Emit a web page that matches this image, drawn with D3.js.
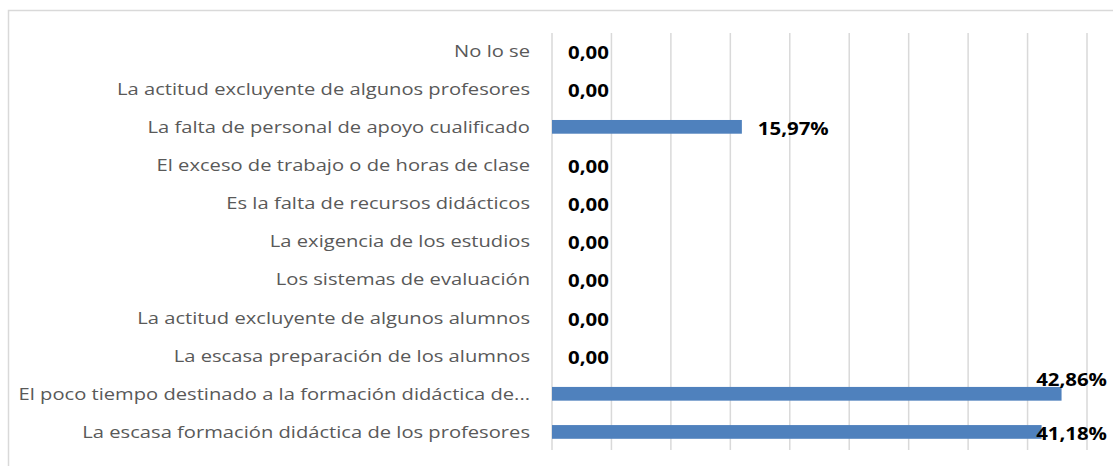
<!DOCTYPE html>
<html>
<head>
    <meta charset="utf-8">
    <title>Causas</title>
    <script src="https://d3js.org/d3.v7.min.js"></script>
    <style>
        body { margin: 0; background: #fff; }
        .cat { font-family: "Open Sans", sans-serif; font-size: 16px; fill: #595959; }
        .val { font-family: "Open Sans", sans-serif; font-size: 17px; font-weight: bold; fill: #000; }
        .grid line { stroke: #d9d9d9; stroke-width: 1.5px; }
    </style>
</head>
<body>
    <svg id="chart" width="1113" height="466"></svg>
    <script>
        // categories, top to bottom
        const categories = [
            'No lo se',
            'La actitud excluyente de algunos profesores',
            'La falta de personal de apoyo cualificado',
            'El exceso de trabajo o de horas de clase',
            'Es la falta de recursos didácticos',
            'La exigencia de los estudios',
            'Los sistemas de evaluación',
            'La actitud excluyente de algunos alumnos',
            'La escasa preparación de los alumnos',
            'El poco tiempo destinado a la formación didáctica de...',
            'La escasa formación didáctica de los profesores'
        ];
        const values = [0, 0, 15.97, 0, 0, 0, 0, 0, 0, 42.86, 41.18];
        const xTicks = [0, 5, 10, 15, 20, 25, 30, 35, 40, 45];

        const labelScale = 1.26;   // picture is stretched sideways
        const valueScale = 1.2;
        const rightLimit = 1107;

        const svg = d3.select('#chart');

        svg.append('rect')
            .attr('x', 8.5).attr('y', 10.5)
            .attr('width', 1120).attr('height', 470)
            .attr('fill', '#fff')
            .attr('stroke', '#d9d9d9')
            .attr('stroke-width', 1.5);

        const x = d3.scaleLinear().domain([0, 45]).range([552, 1087]);
        const y = d3.scaleBand().domain(categories).range([31.5, 451]).paddingInner(0.64).paddingOuter(0.32);

        // vertical gridlines
        svg.append('g').attr('class', 'grid')
            .selectAll('line')
            .data(xTicks)
            .join('line')
            .attr('x1', d => x(d)).attr('x2', d => x(d))
            .attr('y1', 33).attr('y2', 450);

        // bars
        svg.selectAll('.bar')
            .data(values)
            .join('rect')
            .attr('class', 'bar')
            .attr('x', x(0))
            .attr('y', (d, i) => y(categories[i]))
            .attr('width', d => x(d) - x(0))
            .attr('height', y.bandwidth())
            .attr('fill', '#4f81bd');

        const rowMid = i => y(categories[i]) + y.bandwidth() / 2;

        // category labels
        svg.selectAll('.cat')
            .data(categories)
            .join('text')
            .attr('class', 'cat')
            .attr('text-anchor', 'end')
            .attr('transform', (d, i) => `translate(530,${rowMid(i) + 6}) scale(${labelScale},1)`)
            .text(d => d);

        // value labels
        const fmt = v => v === 0 ? '0,00' : v.toFixed(2).replace('.', ',') + '%';
        const maxVal = d3.max(values);
        svg.selectAll('.val')
            .data(values)
            .join('text')
            .attr('class', 'val')
            .text(d => fmt(d))
            .each(function (d, i) {
                const t = d3.select(this);
                const w = this.getComputedTextLength() * valueScale;
                let lx = x(d) + 16;
                let ly = rowMid(i) + 8;
                if (lx + w > rightLimit) {
                    lx = rightLimit - w;
                    if (d === maxVal) ly -= 16;
                }
                t.attr('transform', `translate(${lx},${ly}) scale(${valueScale},1)`);
            });
    </script>
</body>
</html>
